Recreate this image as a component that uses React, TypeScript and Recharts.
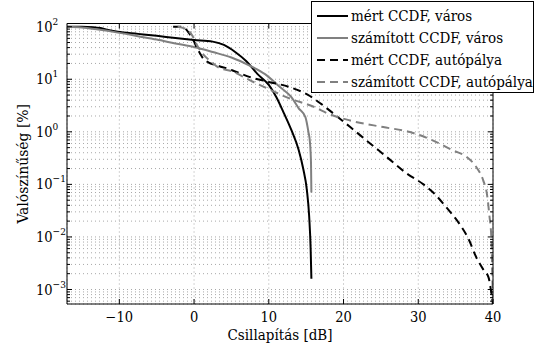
import React from "react";
import { LineChart, Line, XAxis, YAxis, CartesianGrid, Legend } from "recharts";

const FONT = "DejaVu Serif";
const STRETCH = "condensed";
const GRAY = "#808080";

const Y_MIN = 5.3e-4;
const Y_MAX = 115;
const xTicks = [-10, 0, 10, 20, 30, 40];
const decades = [1e-4, 1e-3, 1e-2, 1e-1, 1, 10, 100];
const minorSteps = [1, 2, 3, 4, 5, 6, 7, 8, 9];

// mért CCDF, város
const mertVarosX = [-17, -15, -13.5, -12.5, -11.5, -10.2, -7.5, -5, -2.5, 0, 2.5, 4, 5.5, 7, 8.5, 10, 11, 12, 13, 14, 14.6, 15.1, 15.4, 15.6, 15.7];
const mertVarosY = [100, 100, 98, 94, 87, 80, 73, 67, 61, 56, 52, 45, 33, 22, 12.5, 7.8, 4.6, 2.3, 1.1, 0.45, 0.2, 0.077, 0.025, 0.006, 0.0016];

// számított CCDF, város
const szamVarosX = [-17, -15, -12.8, -10.4, -7.5, -5, -2.5, 0, 2.5, 5, 7.5, 9.5, 11.5, 13, 14, 14.9, 15.3, 15.5, 15.65, 15.7];
const szamVarosY = [100, 97, 88, 78, 66, 57, 48, 41, 33, 26, 18, 12.5, 7.1, 4.6, 2.8, 1.9, 1.0, 0.65, 0.25, 0.07];

// mért CCDF, autópálya
const mertAutoX = [-2.8, -2.1, -1.5, -0.8, 0, 0.4, 0.8, 1.2, 1.9, 3, 5, 7.5, 10, 12.8, 15.5, 17, 18.7, 20.9, 23.1, 25.8, 28.5, 30.7, 32, 33.8, 35.6, 36.7, 37.8, 38.7, 39.4, 39.8, 40];
const mertAutoY = [100, 100, 98, 80, 52, 39, 31, 25, 21, 18.5, 15, 11, 8.9, 7.1, 4.8, 3.4, 2.2, 1.23, 0.68, 0.33, 0.16, 0.1, 0.07, 0.036, 0.017, 0.0093, 0.004, 0.0024, 0.0017, 0.00083, 0.00053];

// számított CCDF, autópálya
const szamAutoX = [-2.2, -1.5, -0.8, -0.3, 0.5, 1.2, 2.4, 3.2, 5.2, 7.5, 9.5, 12.8, 16, 18, 20.9, 25.3, 28.9, 32, 34.7, 36.5, 37.8, 38.7, 39.2, 39.5, 39.8, 39.9, 40];
const szamAutoY = [100, 95, 85, 70, 42, 30, 21, 17, 14, 9.5, 7, 4.3, 3.0, 2.2, 1.64, 1.23, 0.99, 0.68, 0.44, 0.33, 0.21, 0.118, 0.064, 0.027, 0.0083, 0.002, 0.0006];

const seriesNames = [
  "mért CCDF, város",
  "számított CCDF, város",
  "mért CCDF, autópálya",
  "számított CCDF, autópálya",
];

const toPoints = (xs: number[], ys: number[]) => xs.map((x, i) => ({ x, y: ys[i] }));

const series = [
  { name: seriesNames[0], data: toPoints(mertVarosX, mertVarosY), color: "#000", dash: undefined },
  { name: seriesNames[1], data: toPoints(szamVarosX, szamVarosY), color: GRAY, dash: undefined },
  { name: seriesNames[2], data: toPoints(mertAutoX, mertAutoY), color: "#000", dash: "8 5" },
  { name: seriesNames[3], data: toPoints(szamAutoX, szamAutoY), color: GRAY, dash: "8 5" },
];

const yTicks = decades
  .flatMap((d) => minorSteps.map((m) => Number((d * m).toPrecision(3))))
  .filter((v) => v >= Y_MIN && v <= Y_MAX);

const isDecade = (v: number) => Math.abs(Math.log10(v) - Math.round(Math.log10(v))) < 1e-6;

const expLabel = (v: number) => {
  const e = Math.round(Math.log10(v));
  return e < 0 ? "\u2212" + Math.abs(e) : String(e);
};

const txt = (size: number) => ({ fontFamily: FONT, fontStretch: STRETCH, fontSize: size });

const LeftTick = ({ x, y, payload }: any) => {
  const major = isDecade(payload.value);
  return (
    <g>
      <line x1={x} y1={y} x2={x + (major ? 5 : 3)} y2={y} stroke="#000" />
      {major && (
        <text x={x - 31} y={y + 5} textAnchor="start" fill="#000" style={txt(14.5)}>
          10
          <tspan dy={-7} style={{ fontSize: 10 }}>
            {expLabel(payload.value)}
          </tspan>
        </text>
      )}
    </g>
  );
};

const RightTick = ({ x, y, payload }: any) => {
  const major = isDecade(payload.value);
  return <line x1={x} y1={y} x2={x - (major ? 5 : 3)} y2={y} stroke="#000" />;
};

const BottomTick = ({ x, y, payload }: any) => (
  <g>
    <line x1={x} y1={y} x2={x} y2={y - 5} stroke="#000" />
    <text x={x} y={y + 18} textAnchor="middle" fill="#000" style={txt(14.5)}>
      {payload.value < 0 ? "\u2212" + Math.abs(payload.value) : payload.value}
    </text>
  </g>
);

const TopTick = ({ x, y }: any) => <line x1={x} y1={y} x2={x} y2={y + 5} stroke="#000" />;

const LegendBox = () => (
  <div
    style={{
      width: 223,
      height: 92,
      boxSizing: "border-box",
      border: "1px solid #000",
      background: "#fff",
      paddingTop: 3,
      color: "#000",
      ...txt(15),
    }}
  >
    {series.map((s) => (
      <div key={s.name} style={{ display: "flex", alignItems: "center", height: 22, whiteSpace: "nowrap" }}>
        <svg width={39} height={22} style={{ flex: "none" }}>
          <line x1={5} y1={11} x2={36} y2={11} stroke={s.color} strokeWidth={2} strokeDasharray={s.dash} />
        </svg>
        <span>{s.name}</span>
      </div>
    ))}
  </div>
);

export default function App() {
  return (
    <div
      style={{
        position: "absolute",
        left: 0,
        top: 0,
        width: 537,
        height: 346,
        background: "#fff",
      }}
    >
      <LineChart width={537} height={346} margin={{ top: 22.5, right: 40, bottom: 0, left: 0 }}>
        <CartesianGrid stroke="#a8a8a8" strokeDasharray="1 3" />
        <XAxis
          dataKey="x"
          type="number"
          domain={[-17, 40]}
          ticks={xTicks}
          allowDataOverflow
          height={42}
          tickLine={false}
          tickSize={0}
          tickMargin={0}
          interval={0}
          axisLine={{ stroke: "#000" }}
          tick={<BottomTick />}
          label={{ value: "Csillapítás [dB]", position: "center", dy: 10, fill: "#000", style: txt(15) }}
        />
        <XAxis
          xAxisId="t"
          orientation="top"
          dataKey="x"
          type="number"
          domain={[-17, 40]}
          ticks={xTicks}
          allowDataOverflow
          height={1}
          tickLine={false}
          tickSize={0}
          tickMargin={0}
          interval={0}
          axisLine={{ stroke: "#000" }}
          tick={<TopTick />}
        />
        <YAxis
          scale="log"
          type="number"
          domain={[Y_MIN, Y_MAX]}
          ticks={yTicks}
          allowDataOverflow
          width={67}
          tickLine={false}
          tickSize={0}
          tickMargin={0}
          interval={0}
          axisLine={{ stroke: "#000" }}
          tick={<LeftTick />}
          label={{ value: "Valószínűség [%]", angle: -90, position: "center", dx: -11, fill: "#000", style: txt(15.5) }}
        />
        <YAxis
          yAxisId="r"
          orientation="right"
          scale="log"
          type="number"
          domain={[Y_MIN, Y_MAX]}
          ticks={yTicks}
          allowDataOverflow
          width={4}
          tickLine={false}
          tickSize={0}
          tickMargin={0}
          interval={0}
          axisLine={{ stroke: "#000" }}
          tick={<RightTick />}
        />
        {series.map((s) => (
          <Line
            key={s.name}
            data={s.data}
            dataKey="y"
            name={s.name}
            type="monotone"
            stroke={s.color}
            strokeWidth={2}
            strokeDasharray={s.dash}
            dot={false}
            activeDot={false}
            isAnimationActive={false}
          />
        ))}
        <Legend
          layout="vertical"
          align="center"
          verticalAlign="middle"
          content={<LegendBox />}
          wrapperStyle={{ left: 311, top: 1, width: 223, height: 92 }}
        />
      </LineChart>
    </div>
  );
}
